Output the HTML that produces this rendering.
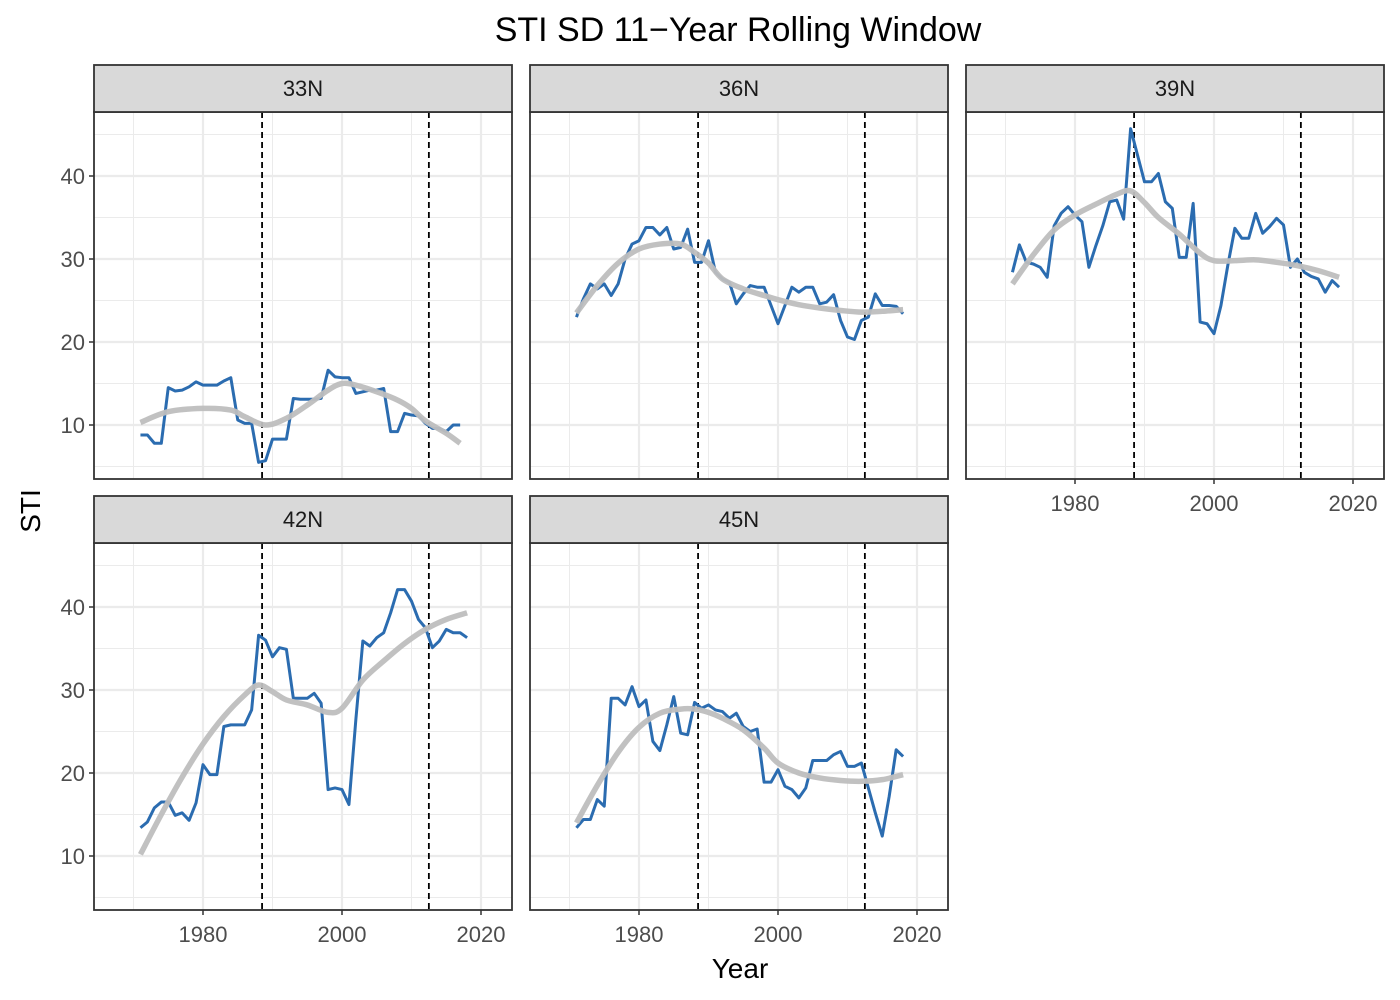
<!DOCTYPE html>
<html><head><meta charset="utf-8"><style>
body{margin:0;background:#fff;}
svg{display:block;font-family:"Liberation Sans",Arial,sans-serif;}
</style></head><body>
<svg id="chart" width="1400" height="1000"></svg>
<script>
const years = Array.from({length:48},(_,i)=>1971+i);
const panelNames = ["33N","36N","39N","42N","45N"];
const sti33 = [8.8,8.8,7.8,7.8,14.5,14.1,14.2,14.6,15.2,14.8,14.8,14.8,15.3,15.7,10.6,10.2,10.2,5.5,5.7,8.3,8.3,8.3,13.2,13.1,13.1,13.1,13.2,16.6,15.8,15.7,15.7,13.8,14.0,14.2,14.2,14.4,9.2,9.2,11.4,11.2,11.1,10.2,9.6,9.6,9.2,10.0,10.0];
const sti36 = [23.0,25.2,27.0,26.4,27.0,25.6,27.0,30.0,31.8,32.2,33.8,33.8,32.9,33.8,31.2,31.4,33.6,29.6,29.6,32.2,28.4,27.6,27.2,24.6,25.8,26.8,26.6,26.6,24.4,22.2,24.4,26.6,26.0,26.6,26.6,24.6,24.8,25.7,22.6,20.6,20.3,22.6,23.0,25.8,24.4,24.4,24.3,23.4];
const sti39 = [28.4,31.7,29.6,29.4,29.0,27.8,34.0,35.5,36.3,35.3,34.5,29.0,31.6,34.0,36.9,37.1,34.8,45.7,42.5,39.3,39.3,40.3,36.9,36.1,30.2,30.2,36.7,22.4,22.2,21.0,24.4,29.3,33.7,32.5,32.5,35.5,33.1,33.9,34.9,34.1,29.0,30.0,28.4,27.9,27.6,26.0,27.4,26.6];
const sti42 = [13.4,14.1,15.8,16.5,16.5,14.9,15.2,14.3,16.4,21.0,19.8,19.8,25.6,25.8,25.8,25.8,27.6,36.6,36.0,34.0,35.1,34.9,29.0,29.0,29.0,29.6,28.4,18.0,18.2,18.0,16.2,26.5,35.9,35.3,36.3,36.9,39.3,42.1,42.1,40.7,38.5,37.5,35.1,35.9,37.3,36.9,36.9,36.3];
const sti45 = [13.4,14.4,14.4,16.8,16.0,29.0,29.0,28.2,30.4,28.0,28.8,23.8,22.7,25.8,29.2,24.8,24.6,28.5,27.8,28.2,27.6,27.4,26.6,27.2,25.6,25.0,25.3,18.9,18.9,20.4,18.4,18.0,17.0,18.2,21.5,21.5,21.5,22.2,22.6,20.8,20.8,21.2,18.2,15.2,12.4,17.2,22.8,22.0];
const smoothYears33 = [1971,1975,1980,1984,1986,1989,1992,1995,1998,2000,2002,2005,2008,2010,2012,2015,2017];
const smooth33 = [10.3,11.6,12.0,11.8,11.0,10.0,10.8,12.4,14.2,15.0,14.8,14.0,13.0,12.0,10.5,9.0,7.8];
const smoothYears = [1971,1974,1977,1980,1983,1986,1988,1990,1992,1995,1998,2000,2003,2006,2009,2012,2015,2018];
const smooth36 = [23.5,26.8,29.5,31.2,31.8,31.8,30.8,29.5,27.6,26.4,25.6,25.1,24.5,24.1,23.8,23.6,23.7,23.9];
const smooth39 = [27.0,30.5,33.5,35.3,36.6,37.8,38.2,36.8,35.0,33.0,30.7,29.8,29.8,29.9,29.6,29.2,28.6,27.8];
const smooth42 = [10.2,15.0,19.5,23.5,26.8,29.4,30.6,29.8,28.8,28.2,27.3,27.8,31.2,33.5,35.6,37.3,38.5,39.3];
const smooth45 = [14.0,18.5,22.5,25.5,27.2,27.7,27.7,27.3,26.6,25.2,23.0,21.2,20.0,19.4,19.1,19.0,19.2,19.8];
const vlines = [1988.5,2012.5];
const xTicks = [1980,2000,2020];
const yTicks = [10,20,30,40];

const NS="http://www.w3.org/2000/svg";
const svg=document.getElementById('chart');
function mk(tag,attrs,parent){const e=document.createElementNS(NS,tag);for(const k in attrs)e.setAttribute(k,attrs[k]);(parent||svg).appendChild(e);return e;}

const panels=[
 {name:panelNames[0],left:94,top:112,vals:sti33,sy:smoothYears33,sv:smooth33,xlab:false,ylab:true},
 {name:panelNames[1],left:530,top:112,vals:sti36,sy:smoothYears,sv:smooth36,xlab:false,ylab:false},
 {name:panelNames[2],left:966,top:112,vals:sti39,sy:smoothYears,sv:smooth39,xlab:true,ylab:false},
 {name:panelNames[3],left:94,top:543,vals:sti42,sy:smoothYears,sv:smooth42,xlab:true,ylab:true},
 {name:panelNames[4],left:530,top:543,vals:sti45,sy:smoothYears,sv:smooth45,xlab:true,ylab:false}
];
const W=418,H=367;
function spline(pts){let d=`M${pts[0][0]},${pts[0][1]}`;for(let i=0;i<pts.length-1;i++){const p0=pts[i-1]||pts[i],p1=pts[i],p2=pts[i+1],p3=pts[i+2]||p2;
 d+=` C${p1[0]+(p2[0]-p0[0])/6},${p1[1]+(p2[1]-p0[1])/6} ${p2[0]-(p3[0]-p1[0])/6},${p2[1]-(p3[1]-p1[1])/6} ${p2[0]},${p2[1]}`;}return d;}

panels.forEach(p=>{
 const xs=y=>p.left+109+(y-1980)*6.95;
 const ys=v=>p.top+313-(v-10)*8.3;
 const g=mk('g',{});
 
 
 mk('rect',{x:p.left,y:p.top,width:W,height:H,fill:'#fff'},g);
 [1970,1990,2010].forEach(y=>mk('line',{x1:xs(y),x2:xs(y),y1:p.top,y2:p.top+H,stroke:'#ebebeb','stroke-width':1},g));
 [5,15,25,35,45].forEach(v=>mk('line',{x1:p.left,x2:p.left+W,y1:ys(v),y2:ys(v),stroke:'#ebebeb','stroke-width':1},g));
 xTicks.forEach(y=>mk('line',{x1:xs(y),x2:xs(y),y1:p.top,y2:p.top+H,stroke:'#ebebeb','stroke-width':2.2},g));
 yTicks.forEach(v=>mk('line',{x1:p.left,x2:p.left+W,y1:ys(v),y2:ys(v),stroke:'#ebebeb','stroke-width':2.2},g));
 vlines.forEach(y=>{const l=mk('line',{x1:xs(y),x2:xs(y),y1:p.top,y2:p.top+H,stroke:'#000','stroke-width':1.8,'stroke-dasharray':'6,4'},g);
  });
 const pts=p.vals.map((v,i)=>xs(years[i])+','+ys(v)).join(' ');
 const line=mk('polyline',{points:pts,fill:'none',stroke:'#2b6cb0','stroke-width':3,'stroke-linejoin':'round'},g);
 
 const sm=mk('path',{d:spline(p.sy.map((y,i)=>[xs(y),ys(p.sv[i])])),fill:'none',stroke:'#bebebe','stroke-width':5.5,'stroke-linecap':'butt','opacity':0.95},g);
 
 mk('rect',{x:p.left,y:p.top,width:W,height:H,fill:'none',stroke:'#333','stroke-width':1.8},g);
 const st=mk('rect',{x:p.left,y:p.top-47,width:W,height:47,fill:'#d9d9d9',stroke:'#333','stroke-width':1.8},g);
 
 const stt=mk('text',{x:p.left+W/2,y:p.top-16,'text-anchor':'middle','font-size':22,fill:'#1a1a1a'},g);stt.textContent=p.name;
 
 if(p.ylab) yTicks.forEach(v=>{mk('line',{x1:p.left-5,x2:p.left,y1:ys(v),y2:ys(v),stroke:'#333','stroke-width':1.5},g);
  const t=mk('text',{x:p.left-9,y:ys(v)+8,'text-anchor':'end','font-size':22,fill:'#4d4d4d'},g);t.textContent=v;
  });
 if(p.xlab) xTicks.forEach(y=>{mk('line',{x1:xs(y),x2:xs(y),y1:p.top+H,y2:p.top+H+5,stroke:'#333','stroke-width':1.5},g);
  const t=mk('text',{x:xs(y),y:p.top+H+32,'text-anchor':'middle','font-size':22,fill:'#4d4d4d'},g);t.textContent=y;
  });
});
const title=mk('text',{x:738,y:41,'text-anchor':'middle','font-size':34,fill:'#000'});title.textContent='STI SD 11\u2212Year Rolling Window';

const xt=mk('text',{x:740,y:978,'text-anchor':'middle','font-size':28,fill:'#000'});xt.textContent='Year';

const yt=mk('text',{x:40,y:511,'text-anchor':'middle','font-size':28,fill:'#000',transform:'rotate(-90 40 511)'});yt.textContent='STI';

</script>
</body></html>
